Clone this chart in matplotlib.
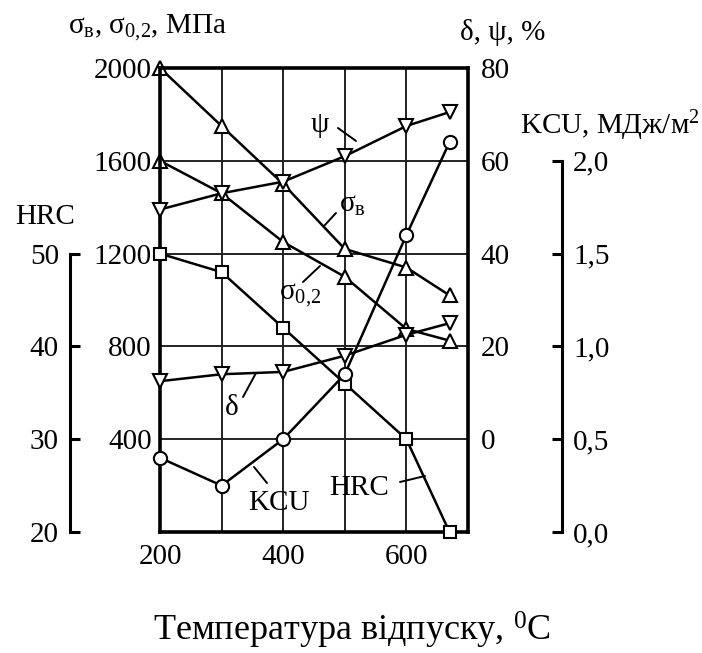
import matplotlib
matplotlib.use("Agg")
import matplotlib.pyplot as plt

plt.rcParams['font.family'] = ['Liberation Serif', 'DejaVu Serif']
plt.rcParams['mathtext.fontset'] = 'custom'
plt.rcParams['mathtext.rm'] = 'Liberation Serif'
plt.rcParams['mathtext.it'] = 'Liberation Serif'
plt.rcParams['mathtext.bf'] = 'Liberation Serif:bold'

# ---- data ----
temp = [200, 300, 400, 500, 600, 670]
sigma_b = [2000, 1750, 1500, 1220, 1140, 1020]        # MPa
sigma_02 = [1600, 1460, 1250, 1100, 875, 825]         # MPa
psi = [49.5, 53, 55.5, 61, 67.5, 70.5]                # %
delta = [12.5, 14, 14.5, 18, 22.5, 25]                # %
hrc = [50, 48, 42, 36, 30, 20]
kcu = [0.40, 0.25, 0.50, 0.85, 1.60, 2.10]            # MJ/m2

x_ticks = [200, 300, 400, 500, 600]
x_labels = ['200', '', '400', '', '600']
sigma_ticks = [400, 800, 1200, 1600, 2000]
pct_ticks = [0, 20, 40, 60, 80]
hrc_ticks = [20, 30, 40, 50]
kcu_ticks = [0.0, 0.5, 1.0, 1.5, 2.0]
kcu_labels = ['0,0', '0,5', '1,0', '1,5', '2,0']

FS = 21
W, H = 702, 653
fig = plt.figure(figsize=(W / 100, H / 100), dpi=100)
L, R, T, B = 160, 468, 68, 532
ax = fig.add_axes([L / W, 1 - B / H, (R - L) / W, (B - T) / H])

ax.set_xlim(200, 700)
ax.set_ylim(0, 2000)
for s in ax.spines.values():
    s.set_linewidth(2.6)
ax.set_xticks(x_ticks)
ax.set_xticklabels(x_labels)
ax.tick_params(axis='x', length=0, labelsize=FS, pad=9)
ax.set_yticks(sigma_ticks)
ax.tick_params(axis='y', length=0, labelsize=FS, pad=6)
ax.grid(True, color='#222222', linewidth=1.4)
ax.set_axisbelow(True)

# percentage axis (delta, psi)
axp = ax.twinx()
axp.set_ylim(-20, 80)
axp.set_yticks(pct_ticks)
axp.tick_params(axis='y', length=0, labelsize=FS, pad=9)
for s in axp.spines.values():
    s.set_visible(False)

# HRC axis
axh = ax.twinx()
axh.set_ylim(20, 70)
axh.yaxis.set_ticks_position('left')
axh.yaxis.set_label_position('left')
for k in ['top', 'bottom', 'right']:
    axh.spines[k].set_visible(False)
axh.spines['left'].set_visible(True)
axh.spines['left'].set_position(('axes', (70 - L) / (R - L)))
axh.spines['left'].set_bounds(20, 50)
axh.spines['left'].set_linewidth(2.2)
axh.set_yticks(hrc_ticks)
axh.tick_params(axis='y', direction='in', length=7, width=2.2, labelsize=FS, pad=8)

# KCU axis
axk = ax.twinx()
axk.set_ylim(0, 2.5)
for k in ['top', 'bottom', 'left']:
    axk.spines[k].set_visible(False)
axk.spines['right'].set_position(('axes', (562 - L) / (R - L)))
axk.spines['right'].set_bounds(0, 2.0)
axk.spines['right'].set_linewidth(2.2)
axk.set_yticks(kcu_ticks)
axk.set_yticklabels(kcu_labels)
axk.tick_params(axis='y', direction='in', length=7, width=2.2, labelsize=FS, pad=8)

line_kw = dict(color='black', linewidth=1.8, markerfacecolor='white',
               markeredgecolor='black', markeredgewidth=1.5, clip_on=False)
ax.plot(temp, sigma_b, marker='^', markersize=10, **line_kw)
ax.plot(temp, sigma_02, marker='^', markersize=10, **line_kw)
axp.plot(temp, psi, marker='v', markersize=10, **line_kw)
axp.plot(temp, delta, marker='v', markersize=10, **line_kw)
axh.plot(temp, hrc, marker='s', markersize=8, **line_kw)
axk.plot(temp, kcu, marker='o', markersize=9.5, **line_kw)


def px(xp, yp):
    """pixel position -> main axes data coords"""
    return 200 + (xp - L) / (R - L) * 500, (B - yp) / (B - T) * 2000


def label(text, tpos, lead_a, lead_b, size=FS):
    x, y = px(*tpos)
    ax.text(x, y, text, fontsize=size, ha='center', va='center')
    ax.annotate('', xy=px(*lead_b), xytext=px(*lead_a),
                arrowprops=dict(arrowstyle='-', color='black', lw=1.4,
                                shrinkA=0, shrinkB=0))


label('ψ', (320, 125), (338, 128), (356, 141))
label(r'σ$_{\mathrm{в}}$', (352, 205), (324, 226), (336, 213))
label(r'σ$_{0{,}2}$', (300, 295), (303, 282), (320, 266))
label('δ', (232, 408), (243, 397), (256, 373))
label('KCU', (279, 503), (267, 483), (254, 467))
label('HRC', (359, 488), (400, 482), (425, 476))

# axis titles
fig.text(68 / W, 1 - 28 / H, r'σ$_{\mathrm{в}}$, σ$_{0{,}2}$, МПа', fontsize=FS,
         ha='left', va='center')
fig.text(460 / W, 1 - 33 / H, 'δ, ψ, %', fontsize=FS, ha='left', va='center')
fig.text(520 / W, 1 - 126 / H, r'KCU, МДж/м$^{2}$', fontsize=FS, ha='left', va='center')
fig.text(45 / W, 1 - 217 / H, 'HRC', fontsize=FS, ha='center', va='center')
fig.text(352 / W, 1 - 630 / H, r'Температура відпуску, $^{0}$C', fontsize=26,
         ha='center', va='center')

fig.savefig('out.png', dpi=100)
